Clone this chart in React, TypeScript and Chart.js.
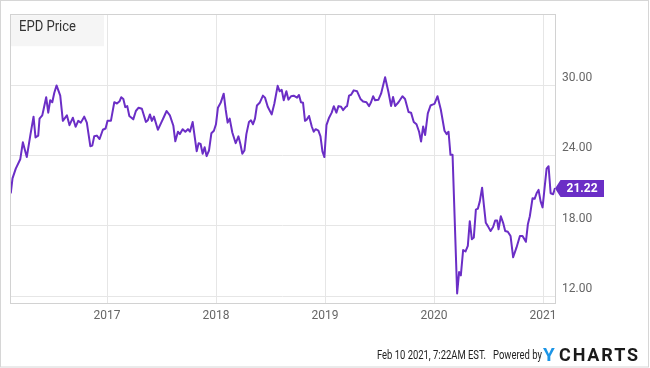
import React, { useEffect, useRef } from "react";
import { Chart, registerables } from "chart.js";

Chart.register(...registerables);

// x positions as decimal years
const dates = [
  2016.116, 2016.132, 2016.162, 2016.203, 2016.227, 2016.263, 2016.295, 2016.325, 2016.343, 2016.368,
  2016.380, 2016.405, 2016.417, 2016.441, 2016.460, 2016.478, 2016.497, 2016.515, 2016.536, 2016.570,
  2016.594, 2016.631, 2016.655, 2016.686, 2016.711, 2016.735, 2016.759, 2016.790, 2016.814, 2016.846,
  2016.864, 2016.882, 2016.906, 2016.931, 2016.961, 2016.986, 2017.004, 2017.035, 2017.066, 2017.090,
  2017.115,
  2017.130, 2017.149, 2017.167, 2017.185, 2017.204, 2017.240, 2017.264, 2017.289, 2017.319, 2017.356,
  2017.374, 2017.393, 2017.411, 2017.430, 2017.466, 2017.497, 2017.521, 2017.546, 2017.576, 2017.608,
  2017.626, 2017.650, 2017.668, 2017.693, 2017.718, 2017.742, 2017.760, 2017.785, 2017.822, 2017.840,
  2017.858, 2017.877, 2017.895, 2017.913, 2017.935, 2017.957, 2017.980, 2017.999, 2018.017, 2018.042,
  2018.070,
  2018.088, 2018.106, 2018.125, 2018.149, 2018.180, 2018.205, 2018.223, 2018.241, 2018.260, 2018.278,
  2018.302, 2018.320, 2018.339, 2018.357, 2018.375, 2018.400, 2018.430, 2018.449, 2018.474, 2018.510,
  2018.535, 2018.565, 2018.584, 2018.602, 2018.621, 2018.645, 2018.664, 2018.688, 2018.712, 2018.743,
  2018.761, 2018.779, 2018.798, 2018.816, 2018.834, 2018.853, 2018.878, 2018.896, 2018.914, 2018.939,
  2018.958, 2018.976, 2018.994, 2019.013, 2019.037, 2019.061, 2019.080,
  2019.104, 2019.123, 2019.147, 2019.165, 2019.190, 2019.202, 2019.220, 2019.239, 2019.263, 2019.294,
  2019.325, 2019.349, 2019.380, 2019.404, 2019.422, 2019.441, 2019.459, 2019.490, 2019.514, 2019.551,
  2019.582, 2019.606, 2019.624, 2019.643, 2019.674, 2019.710, 2019.734, 2019.766, 2019.789, 2019.814,
  2019.839, 2019.863, 2019.881, 2019.900, 2019.918, 2019.943, 2019.968, 2019.986, 2020.004, 2020.032,
  2020.062, 2020.096, 2020.115, 2020.133, 2020.151, 2020.170, 2020.212, 2020.230, 2020.246, 2020.267,
  2020.289, 2020.310, 2020.328, 2020.347, 2020.365, 2020.384, 2020.402, 2020.420, 2020.441, 2020.457,
  2020.475, 2020.494, 2020.519, 2020.542, 2020.561, 2020.579, 2020.592, 2020.613, 2020.634, 2020.653,
  2020.677, 2020.702, 2020.726, 2020.757, 2020.788, 2020.812, 2020.843, 2020.861, 2020.879, 2020.904,
  2020.923, 2020.941, 2020.959, 2020.978, 2020.996, 2021.014, 2021.033, 2021.051, 2021.070, 2021.093,
  2021.110,
];

const prices = [
  20.77, 22.04, 22.88, 23.67, 25.12, 23.86, 25.69, 27.31, 25.54, 25.69,
  27.14, 27.42, 27.92, 28.97, 27.65, 28.71, 28.54, 29.33, 29.97, 29.10,
  26.95, 27.42, 26.58, 27.22, 26.44, 26.95, 26.80, 27.31, 26.80, 24.79,
  24.84, 25.63, 25.69, 25.40, 26.19, 26.30, 26.95, 26.95, 28.54, 28.43,
  28.63,
  28.97, 28.82, 28.12, 28.21, 27.37, 27.08, 27.79, 28.07, 27.98, 26.86,
  27.00, 27.50, 26.95, 27.31, 26.19, 26.80, 27.28, 27.79, 27.42, 26.53,
  25.21, 26.02, 25.82, 26.24, 26.02, 26.24, 26.02, 26.86, 24.36, 25.04,
  24.98, 24.14, 24.70, 23.94, 24.42, 25.90, 26.11, 26.66, 28.07, 28.49,
  29.27,
  27.92, 26.80, 27.14, 25.96, 25.04, 25.63, 24.98, 24.14, 24.42, 25.82,
  26.86, 27.00, 26.66, 27.14, 28.26, 28.49, 29.10, 28.93, 28.15, 27.50,
  28.43, 29.94, 29.47, 29.60, 28.71, 29.47, 28.76, 29.05, 29.10, 28.93,
  29.16, 28.54, 28.49, 26.95, 27.08, 27.37, 26.47, 26.02, 26.24, 26.11,
  25.63, 24.34, 23.86, 26.58, 27.22, 27.65, 28.20,
  27.65, 28.21, 28.15, 27.87, 28.15, 28.21, 29.10, 29.18, 29.55, 29.47,
  28.82, 28.60, 28.54, 28.21, 28.54, 29.05, 28.71, 28.76, 29.27, 30.67,
  29.39, 28.21, 28.99, 28.21, 28.54, 29.05, 28.82, 27.70, 27.65, 26.86,
  26.66, 26.02, 25.18, 26.47, 25.74, 27.59, 28.26, 28.34, 28.40, 29.05,
  27.92, 26.11, 25.82, 26.02, 24.05, 24.05, 12.23, 14.05, 13.77, 15.93,
  15.81, 16.29, 18.39, 16.85, 16.99, 19.38, 19.46, 20.08, 21.25, 19.80,
  18.25, 17.97, 17.55, 17.89, 18.45, 18.45, 17.70, 18.81, 18.25, 17.55,
  17.49, 17.13, 15.31, 16.15, 17.13, 17.13, 16.63, 18.12, 18.81, 20.35,
  20.30, 20.77, 21.06, 20.08, 19.57, 21.19, 22.88, 23.08, 20.77, 20.69,
  21.22,
];

const xTicks = [2017, 2018, 2019, 2020, 2021];
const yTicks = [12, 18, 24, 30];
const xRange = [2016.109, 2021.11];
const yRange = [11.41, 36.05];
const seriesName = "EPD Price";
const timestamp = "Feb 10 2021, 7:22AM EST.";
const poweredBy = "Powered by";

const PURPLE = "#6b2ec6";
const GRID = "#e6e6e6";
const FONT = "Roboto";

export default function App() {
  const ref = useRef<HTMLCanvasElement>(null);

  useEffect(() => {
    document.body.style.margin = "0";
    const canvas = ref.current!;

    const decor = {
      id: "decor",
      beforeDatasetsDraw(chart: any) {
        const c = chart.ctx;
        const a = chart.chartArea;
        c.save();
        c.fillStyle = "#f5f5f5";
        c.fillRect(a.left + 1, a.top + 1, 93, 31);
        c.fillStyle = "#333";
        c.font = `14px ${FONT}`;
        c.textAlign = "left";
        c.textBaseline = "middle";
        c.fillText(seriesName, 19, 27, 57);
        c.restore();
      },
      afterDraw(chart: any) {
        const c = chart.ctx;
        const a = chart.chartArea;
        c.save();
        c.lineWidth = 1;
        // outer frame
        c.strokeStyle = "#d6d6d6";
        c.strokeRect(0.5, 0.5, 648, 366.5);
        // plot frame
        c.strokeStyle = "#d2d2d2";
        c.strokeRect(Math.round(a.left) + 0.5, Math.round(a.top) + 0.5, Math.round(a.right - a.left), Math.round(a.bottom - a.top));

        // last value tag
        const v = prices[prices.length - 1];
        const py = Math.round(chart.scales.y.getPixelForValue(v)) + 0.5;
        const x0 = a.right;
        c.fillStyle = PURPLE;
        c.beginPath();
        c.moveTo(x0, py);
        c.lineTo(x0 + 5.5, py - 8.5);
        c.lineTo(604, py - 8.5);
        c.lineTo(604, py + 8.5);
        c.lineTo(x0 + 5.5, py + 8.5);
        c.closePath();
        c.fill();
        c.fillStyle = "#fff";
        c.font = `bold 12px ${FONT}`;
        c.textAlign = "center";
        c.textBaseline = "middle";
        c.fillText(v.toFixed(2), 582, py + 0.5);

        // footer
        c.textAlign = "left";
        c.textBaseline = "alphabetic";
        c.fillStyle = "#222";
        c.font = `12px ${FONT}`;
        c.fillText(timestamp, 377, 358.5, 109);
        c.fillText(poweredBy, 493, 358.5, 49);
        c.font = `bold 19px ${FONT}`;
        c.fillStyle = "#1c95e6";
        c.fillText("Y", 543, 361, 15);
        c.fillStyle = "#1a1a1a";
        (c as any).letterSpacing = "2px";
        c.fillText("CHARTS", 559, 361, 81);
        c.restore();
      },
    };

    const chart = new Chart(canvas, {
      type: "line",
      data: {
        datasets: [
          {
            label: seriesName,
            data: dates.map((d, i) => ({ x: d, y: prices[i] })),
            borderColor: PURPLE,
            borderWidth: 2,
            pointRadius: 0,
            tension: 0,
            fill: false,
            borderJoinStyle: "round",
          },
        ],
      },
      options: {
        responsive: false,
        animation: false,
        layout: { padding: { left: 10, top: 10, right: 0, bottom: 0 } },
        plugins: {
          legend: { display: false },
          tooltip: { enabled: false },
        },
        scales: {
          x: {
            type: "linear",
            min: xRange[0],
            max: xRange[1],
            afterBuildTicks: (s: any) => {
              s.ticks = xTicks.map((v) => ({ value: v }));
            },
            afterFit: (s: any) => {
              s.height = 65;
            },
            grid: { color: GRID, drawTicks: false },
            border: { display: false },
            ticks: {
              padding: 6,
              color: "#666",
              font: { size: 12, family: FONT },
              maxRotation: 0,
              autoSkip: false,
              callback: (v: any) => String(v),
            },
          },
          y: {
            position: "right",
            min: yRange[0],
            max: yRange[1],
            afterBuildTicks: (s: any) => {
              s.ticks = yTicks.map((v) => ({ value: v }));
            },
            afterFit: (s: any) => {
              s.width = 95;
            },
            grid: { color: GRID, drawTicks: false },
            border: { display: false },
            ticks: {
              padding: 7,
              labelOffset: -7,
              color: "#666",
              font: { size: 12, family: FONT },
              callback: (v: any) => Number(v).toFixed(2),
            },
          },
        },
      },
      plugins: [decor],
    } as any);

    return () => chart.destroy();
  }, []);

  return <canvas ref={ref} width={650} height={368} style={{ display: "block" }} />;
}
